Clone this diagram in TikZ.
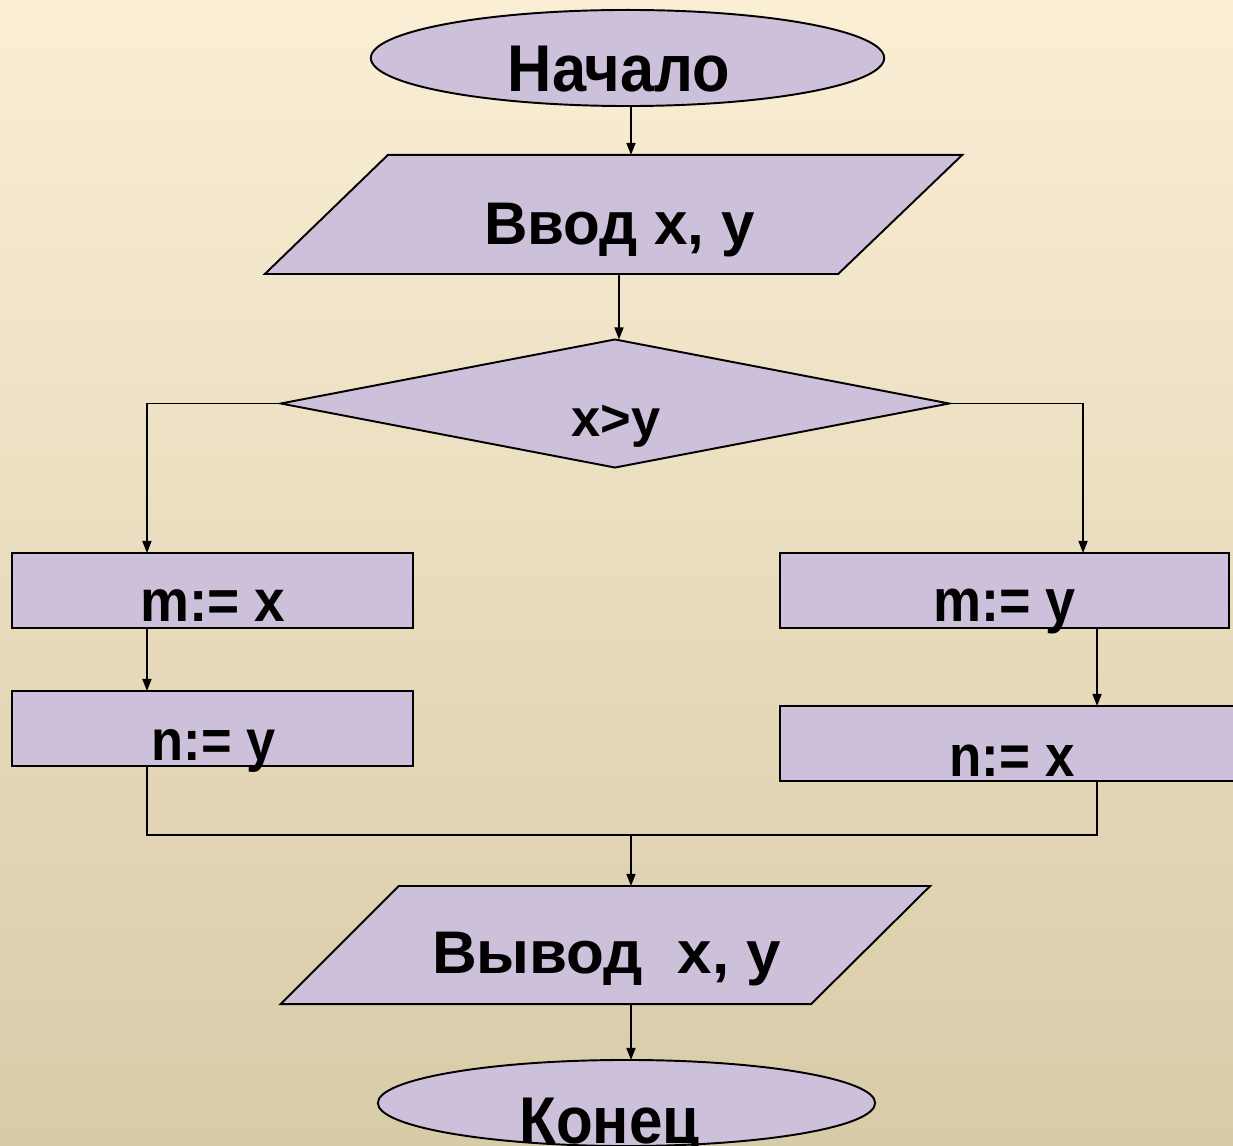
\documentclass[tikz,border=0pt]{standalone}
\usepackage{fontspec}
\setmainfont{Liberation Sans}
\usetikzlibrary{shapes.geometric,arrows.meta,calc}
\definecolor{lav}{RGB}{204,192,218}
\definecolor{bgtop}{RGB}{250,238,213}
\definecolor{bgmid}{RGB}{241,234,212}
\definecolor{bgbot}{RGB}{216,203,168}
\tikzset{
  shp/.style={draw=black, fill=lav, line width=0.55pt},
  frame/.style={draw=none, inner sep=0pt, outer sep=0pt},
  boxnode/.style={shp, rectangle, inner sep=0pt, outer sep=0pt, minimum height=0.75cm},
  ln/.style={draw=black, line width=0.45pt},
  arr/.style={ln, -{Triangle[length=0.12cm,width=0.09cm]}},
  txt/.style={anchor=base, inner sep=0pt, outer sep=0pt, text=black},
}
\newcommand{\bigt}{\fontsize{17.1}{20}\selectfont\bfseries}
\newcommand{\midt}{\fontsize{14.9}{18}\selectfont\bfseries}
\begin{document}
\begin{tikzpicture}[x=0.01cm,y=-0.01cm]
\useasboundingbox (0,0) rectangle (1233,1146);
\clip (0,0) rectangle (1233,1146);
\shade[top color=bgtop, middle color=bgmid, bottom color=bgbot] (0,0) rectangle (1233,1146);

% start ellipse
\node[shp, ellipse, inner sep=0pt, outer sep=0pt, minimum width=5.13cm, minimum height=0.96cm] (start) at (627.5,58) {};
\node[txt, font=\bigt] (tstart) at (619,92) {\scalebox{1.02}[1.1]{Начало}};

% input parallelogram
\node[frame, minimum width=6.97cm, minimum height=1.19cm] (in) at (613.5,214.5) {};
\draw[shp] ([xshift=1.23cm]in.north west) -- (in.north east) -- ([xshift=-1.24cm]in.south east) -- (in.south west) -- cycle;
\node[txt, font=\bigt] (tin) at (619.5,245) {Ввод x, y};

% decision
\node[shp, diamond, inner sep=0pt, outer sep=0pt, minimum width=6.68cm, minimum height=1.28cm] (dec) at (615,403.5) {};
\node[txt, font=\midt] (tdec) at (616,437) {x>y};

% left branch
\node[boxnode, minimum width=4.01cm] (mx) at (212.5,590.5) {};
\node[txt, font=\midt] (tmx) at (213,622) {\scalebox{1.05}[1.13]{m:= x}};
\node[boxnode, minimum width=4.01cm] (ny) at (212.5,728.5) {};
\node[txt, font=\midt] (tny) at (213.5,760) {\scalebox{1}[1.1]{n:= y}};

% right branch
\node[boxnode, minimum width=4.49cm] (my) at (1004.5,590.5) {};
\node[txt, font=\midt] (tmy) at (1004.5,622) {\scalebox{1.03}[1.15]{m:= y}};
\node[boxnode, minimum width=4.60cm] (nx) at (1010,743.5) {};
\node[txt, font=\midt] (tnx) at (1012,776) {\scalebox{1.01}[1.12]{n:= x}};

% output parallelogram
\node[frame, minimum width=6.49cm, minimum height=1.18cm] (out) at (605.5,945) {};
\draw[shp] ([xshift=1.18cm]out.north west) -- (out.north east) -- ([xshift=-1.19cm]out.south east) -- (out.south west) -- cycle;
\node[txt, font=\bigt] (tout) at (606.5,973) {\scalebox{1.03}[1]{Вывод\ \ x, y}};

% end ellipse
\node[shp, ellipse, inner sep=0pt, outer sep=0pt, minimum width=4.97cm, minimum height=0.86cm] (end) at (626.5,1103) {};
\node[txt, font=\bigt] (tend) at (609.5,1143) {\scalebox{1}[1.1]{Конец}};

% connectors
\draw[arr] ([xshift=0.035cm]start.south) -- ([xshift=0.035cm]start.south |- in.north);
\draw[arr] ([xshift=0.04cm]dec.north |- in.south) -- ([xshift=0.04cm]dec.north);
\draw[arr] (dec.west) -| ([xshift=-0.655cm]mx.north);
\draw[arr] (dec.east) -| ([xshift=0.785cm]my.north);
\draw[arr] ([xshift=-0.655cm]mx.south) -- ([xshift=-0.655cm]ny.north);
\draw[arr] ([xshift=0.925cm]my.south) -- ([xshift=0.925cm]my.south |- nx.north);
\coordinate (mj) at (631,835);
\draw[ln] ([xshift=-0.655cm]ny.south) |- (mj) -| ([xshift=0.87cm]nx.south);
\draw[arr] (mj) -- (mj |- out.north);
\draw[arr] ([xshift=0.045cm]end.north |- out.south) -- ([xshift=0.045cm]end.north);
\end{tikzpicture}
\end{document}
